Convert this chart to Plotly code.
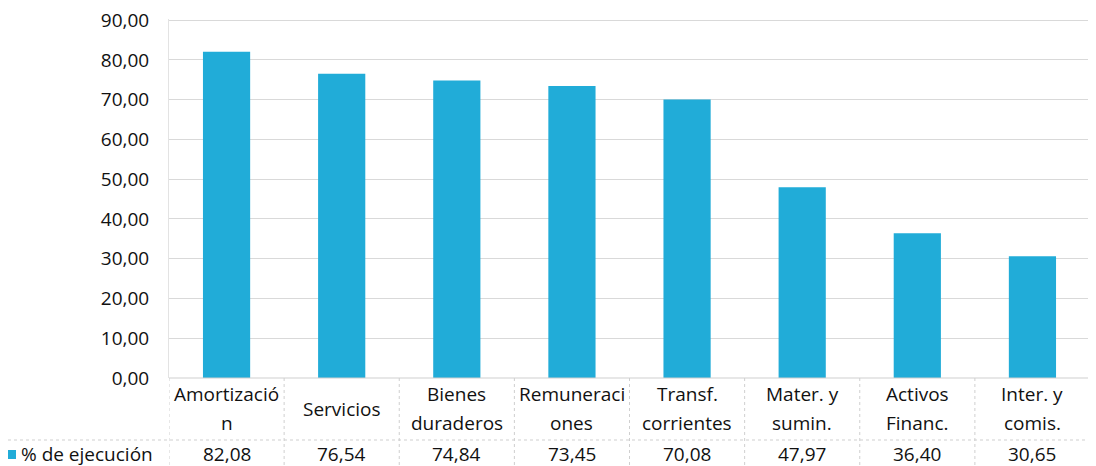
import plotly.graph_objects as go

categories = ["Amortizació<br>n", "Servicios", "Bienes<br>duraderos", "Remuneraci<br>ones",
              "Transf.<br>corrientes", "Mater. y<br>sumin.", "Activos<br>Financ.", "Inter. y<br>comis."]
values = [82.08, 76.54, 74.84, 73.45, 70.08, 47.97, 36.40, 30.65]
series_name = "% de ejecución"
y_ticks = [0, 10, 20, 30, 40, 50, 60, 70, 80, 90]

OFF = 8  # page body margin
W, H = 1096 - OFF, 466 - OFF
L, T = 169 - OFF, 19 - OFF
B = H - (378 - OFF)
R = W - (1090 - OFF)
PH = H - T - B
PW = W - L - R
BAR = "#21acd8"
GRID = "#d9d9d9"
FONT = "Open Sans"
TXT = "#111111"
FS = 19


def py(y):
    return (H - B - (y - OFF)) / PH


def px(x):
    return (x - OFF - L) / PW


xs = list(range(len(categories)))
fig = go.Figure()
fig.add_bar(x=xs, y=values, marker=dict(color=BAR, line=dict(width=0)), width=0.41,
            name=series_name, showlegend=False, hoverinfo="y")

shapes = []
annotations = []
for i in range(len(categories) + 1):
    shapes.append(dict(type="line", xref="x", yref="paper", x0=i - 0.5, x1=i - 0.5,
                       y0=0, y1=py(466), line=dict(color="#cfcfcf", width=1, dash="dot")))
shapes.append(dict(type="line", xref="paper", yref="paper", x0=px(OFF), x1=1, y0=py(440), y1=py(440),
                   line=dict(color="#cfcfcf", width=1, dash="dot")))
shapes.append(dict(type="line", xref="paper", yref="paper", x0=0, x1=1, y0=0, y1=0,
                   line=dict(color="#cfcfcf", width=1)))
shapes.append(dict(type="rect", xref="paper", yref="paper", x0=px(OFF), x1=px(16), y0=py(459), y1=py(450),
                   fillcolor=BAR, line=dict(width=0)))
annotations.append(dict(text=series_name, xref="paper", yref="paper", x=px(19), y=py(454),
                        xanchor="left", yanchor="middle", showarrow=False,
                        font=dict(family=FONT, size=FS, color=TXT)))
for i, (c, v) in enumerate(zip(categories, values)):
    lines = c.split("<br>")
    ys = [409] if len(lines) == 1 else [394, 423]
    for line, yy in zip(lines, ys):
        annotations.append(dict(text=line, xref="x", yref="paper", x=i, y=py(yy), xanchor="center",
                                yanchor="middle", showarrow=False,
                                font=dict(family=FONT, size=FS, color=TXT)))
    annotations.append(dict(text=f"{v:.2f}".replace(".", ","), xref="x", yref="paper", x=i, y=py(454),
                            xanchor="center", yanchor="middle", showarrow=False,
                            font=dict(family=FONT, size=FS, color=TXT)))

fig.update_layout(
    template="none",
    width=W, height=H,
    margin=dict(l=L, r=R, t=T, b=B, pad=0),
    paper_bgcolor="white", plot_bgcolor="white",
    separators=",.",
    shapes=shapes, annotations=annotations,
    xaxis=dict(range=[-0.5, len(categories) - 0.5], showticklabels=False, showgrid=False,
               zeroline=False, showline=False, fixedrange=True, automargin=False),
    yaxis=dict(range=[0, 90.3], autorange=False, tickmode="array", tickvals=y_ticks, tickformat=".2f",
               showgrid=True, gridcolor=GRID, automargin=False, ticklabeloverflow="allow",
               gridwidth=1, zeroline=False, showline=True, linecolor="#e3e3e3", ticks="",
               ticklabelstandoff=15, tickfont=dict(family=FONT, size=FS, color=TXT)),
)

fig.write_html("out.html")
